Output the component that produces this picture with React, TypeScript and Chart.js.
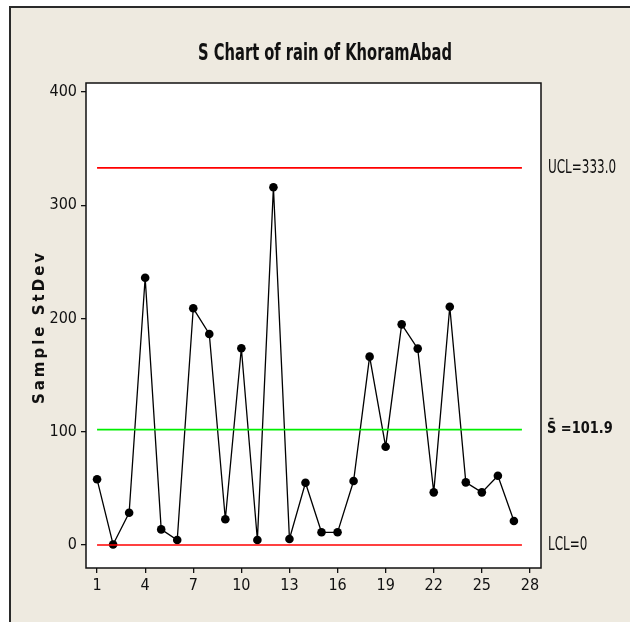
import React, { useEffect, useRef } from "react";
import { Chart, registerables } from "chart.js";

Chart.register(...registerables);

// ---- data ----
const sampleNumbers = [1, 2, 3, 4, 5, 6, 7, 8, 9, 10, 11, 12, 13, 14, 15, 16, 17, 18, 19, 20, 21, 22, 23, 24, 25, 26, 27];
const sampleStDev = [58, 0.5, 28.5, 236, 13.8, 4.4, 209, 186.3, 22.7, 173.7, 4.4, 315.8, 5.3, 55, 11.2, 11.2, 56.5, 166.3, 86.8, 194.8, 173.4, 46.5, 210.4, 55.3, 46.5, 61.2, 21.2];
const UCL = 333.0;
const SBAR = 101.9;
const LCL = 0;
const limitSpan = [1, 27.5];
const xTickValues = [1, 4, 7, 10, 13, 16, 19, 22, 25, 28];
const yTickValues = [0, 100, 200, 300, 400];
const titleText = "S Chart of rain of KhoramAbad";
const yTitleText = "Sample StDev";
const uclLabel = "UCL=333.0";
const sbarLabel = "S\u0304 =101.9";
const lclLabel = "LCL=0";

const COND = '"DejaVu Sans Condensed", "Liberation Sans", sans-serif';
const BEIGE = "rgb(238,234,224)";

// draw text squeezed horizontally (the reference uses a narrow face)
function squeezedText(ctx: CanvasRenderingContext2D, text: string, x: number, y: number, sx: number, align: CanvasTextAlign) {
  ctx.save();
  ctx.translate(x, y);
  ctx.scale(sx, 1);
  ctx.textAlign = align;
  ctx.fillText(text, 0, 0);
  ctx.restore();
}

const decorPlugin = {
  id: "decor",
  beforeDraw(chart: any) {
    const { ctx, chartArea: a, width, height } = chart;
    ctx.save();
    ctx.fillStyle = "#ffffff";
    ctx.fillRect(0, 0, width, height);
    ctx.fillStyle = BEIGE;
    ctx.fillRect(10, 7, width, height);
    ctx.strokeStyle = "#2a2a2a";
    ctx.lineWidth = 2;
    ctx.beginPath();
    ctx.moveTo(10, height + 5);
    ctx.lineTo(10, 7);
    ctx.lineTo(width + 5, 7);
    ctx.stroke();
    ctx.fillStyle = "#ffffff";
    ctx.fillRect(a.left, a.top, a.right - a.left, a.bottom - a.top);
    ctx.restore();
  },
  afterDraw(chart: any) {
    const { ctx, chartArea: a, scales } = chart;
    const y = scales.y;
    ctx.save();
    // plot frame
    ctx.strokeStyle = "#111111";
    ctx.lineWidth = 1.5;
    ctx.strokeRect(a.left, a.top, a.right - a.left, a.bottom - a.top);
    // title
    ctx.fillStyle = "#111111";
    ctx.textBaseline = "middle";
    ctx.font = `bold 23px ${COND}`;
    squeezedText(ctx, titleText, 325, 54, 0.71, "center");
    // y title
    ctx.save();
    ctx.translate(40, 327);
    ctx.rotate(-Math.PI / 2);
    ctx.textAlign = "center";
    ctx.font = 'bold 15px "DejaVu Sans", sans-serif';
    (ctx as any).letterSpacing = "3px";
    ctx.fillText(yTitleText, 0, 0);
    ctx.restore();
    // limit labels
    ctx.font = `19px ${COND}`;
    squeezedText(ctx, uclLabel, a.right + 7, y.getPixelForValue(UCL), 0.7, "left");
    squeezedText(ctx, lclLabel, a.right + 7, y.getPixelForValue(LCL), 0.7, "left");
    ctx.font = 'bold 16px "DejaVu Sans Condensed", "DejaVu Sans", sans-serif';
    squeezedText(ctx, sbarLabel, a.right + 6, y.getPixelForValue(SBAR) - 1, 0.9, "left");
    ctx.restore();
  },
};

function limitLine(value: number, color: string) {
  return {
    data: limitSpan.map((x) => ({ x, y: value })),
    borderColor: color,
    borderWidth: 1.6,
    pointRadius: 0,
    fill: false,
  };
}

export default function App() {
  const ref = useRef<HTMLCanvasElement | null>(null);
  useEffect(() => {
    if (!ref.current) return;
    const chart = new Chart(ref.current, {
      type: "line",
      data: {
        datasets: [
          limitLine(UCL, "#ff0000"),
          limitLine(SBAR, "#00ee00"),
          limitLine(LCL, "#ff0000"),
          {
            data: sampleNumbers.map((x, i) => ({ x, y: sampleStDev[i] })),
            borderColor: "#000000",
            borderWidth: 1.3,
            pointRadius: 4.3,
            pointBackgroundColor: "#000000",
            pointBorderColor: "#000000",
            pointBorderWidth: 0,
            fill: false,
            tension: 0,
          },
        ] as any,
      },
      options: {
        responsive: false,
        animation: false,
        layout: { padding: { top: 83, right: 89, left: 0, bottom: 0 } },
        plugins: { legend: { display: false }, tooltip: { enabled: false }, title: { display: false } },
        scales: {
          x: {
            type: "linear",
            min: 0.31,
            max: 28.69,
            afterBuildTicks: (axis: any) => {
              axis.ticks = xTickValues.map((v) => ({ value: v }));
            },
            afterFit: (s: any) => {
              s.height = 54;
            },
            grid: { display: true, drawOnChartArea: false, drawTicks: true, tickLength: 5, color: "#111111", lineWidth: 1.3 },
            border: { display: false },
            ticks: { font: { family: COND, size: 16 }, color: "#111111", padding: 3, autoSkip: false, maxRotation: 0 },
          },
          y: {
            type: "linear",
            min: -20.3,
            max: 407.9,
            afterBuildTicks: (axis: any) => {
              axis.ticks = yTickValues.map((v) => ({ value: v }));
            },
            afterFit: (s: any) => {
              s.width = 86;
            },
            grid: { display: true, drawOnChartArea: false, drawTicks: true, tickLength: 5, color: "#111111", lineWidth: 1.3 },
            border: { display: false },
            ticks: { font: { family: COND, size: 16 }, color: "#111111", padding: 4, autoSkip: false },
          },
        },
      } as any,
      plugins: [decorPlugin],
    });
    return () => chart.destroy();
  }, []);
  return (
    <div style={{ position: "fixed", left: 0, top: 0, width: 630, height: 622 }}>
      <canvas ref={ref} width={630} height={622} style={{ display: "block", width: 630, height: 622 }} />
    </div>
  );
}
